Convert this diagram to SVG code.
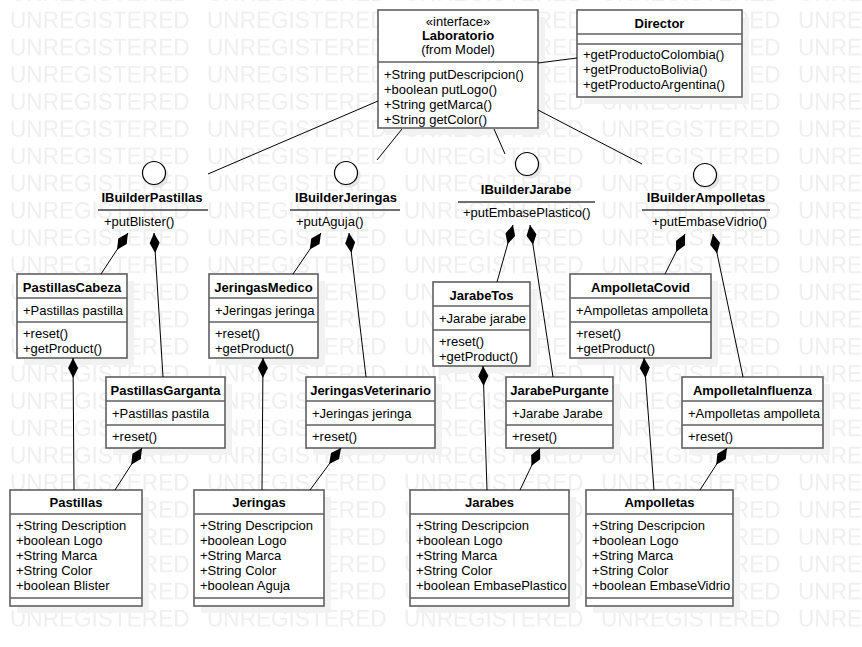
<svg xmlns="http://www.w3.org/2000/svg" width="862" height="647" viewBox="0 0 862 647">
<style>
text{font-family:"Liberation Sans",Arial,sans-serif;font-size:13px;fill:#000}
.b{font-weight:bold}
.c{text-anchor:middle}
.wm{font-size:22.6px;fill:#efefef}
.box{fill:#fff;stroke:#5f5f5f;stroke-width:1.6}
.sh{fill:#f2f2f2}
.div{stroke:#5f5f5f;stroke-width:1.6}
.ul{stroke:#707070;stroke-width:2}
.ic{fill:#fff;stroke:#000;stroke-width:1.2}
.ics{fill:#e6e6e6}
.conn line,.conn path{stroke:#000;stroke-width:1;fill:none}
</style>
<defs>
<pattern id="wm" patternUnits="userSpaceOnUse" x="10" y="1.9" width="197" height="27.2">
<text class="wm" x="0" y="26.6">UNREGISTERED</text>
</pattern>
<marker id="dia" markerUnits="userSpaceOnUse" markerWidth="22" markerHeight="12" refX="0" refY="6" orient="auto" viewBox="0 0 22 12">
<polygon points="0,6 10,1 20,6 10,11" fill="#000"/>
</marker>
</defs>
<rect width="862" height="647" fill="#fff"/>
<rect width="862" height="633" fill="url(#wm)"/>

<g id="Laboratorio">
<rect class="sh" x="385" y="17" width="160" height="118"/>
<rect class="box" x="378" y="10" width="160" height="118"/>
<line class="div" x1="378" y1="62" x2="538" y2="62"/>
<text class="c" x="458" y="26">«interface»</text>
<text class="c b" x="458" y="40">Laboratorio</text>
<text class="c" x="458" y="54">(from Model)</text>
<text x="384" y="79">+String putDescripcion()</text>
<text x="384" y="94">+boolean putLogo()</text>
<text x="384" y="109">+String getMarca()</text>
<text x="384" y="124">+String getColor()</text>
</g>

<g id="Director">
<rect class="sh" x="584" y="17" width="165" height="87"/>
<rect class="box" x="577" y="10" width="165" height="87"/>
<line class="div" x1="577" y1="34" x2="742" y2="34"/>
<line class="div" x1="577" y1="44" x2="742" y2="44"/>
<text class="c b" x="659.5" y="27.5">Director</text>
<text x="583" y="59">+getProductoColombia()</text>
<text x="583" y="74">+getProductoBolivia()</text>
<text x="583" y="89">+getProductoArgentina()</text>
</g>

<g id="IBuilderPastillas">
<circle class="ics" cx="157" cy="176" r="11.5"/>
<circle class="ic" cx="154" cy="173" r="11.5"/>
<text class="c b" x="152" y="202">IBuilderPastillas</text>
<line class="ul" x1="98" y1="210" x2="208" y2="210"/>
<text x="104" y="226">+putBlister()</text>
</g>
<g id="IBuilderJeringas">
<circle class="ics" cx="349" cy="176" r="11.5"/>
<circle class="ic" cx="346" cy="173" r="11.5"/>
<text class="c b" x="346" y="202">IBuilderJeringas</text>
<line class="ul" x1="290" y1="210" x2="400" y2="210"/>
<text x="296" y="226">+putAguja()</text>
</g>
<g id="IBuilderJarabe">
<circle class="ics" cx="530" cy="167" r="11.5"/>
<circle class="ic" cx="527" cy="164" r="11.5"/>
<text class="c b" x="526" y="194">IBuilderJarabe</text>
<line class="ul" x1="458" y1="202" x2="595" y2="202"/>
<text x="463" y="217">+putEmbasePlastico()</text>
</g>
<g id="IBuilderAmpolletas">
<circle class="ics" cx="708" cy="178" r="11.5"/>
<circle class="ic" cx="705" cy="175" r="11.5"/>
<text class="c b" x="706" y="202">IBuilderAmpolletas</text>
<line class="ul" x1="642" y1="210" x2="770" y2="210"/>
<text x="652" y="226">+putEmbaseVidrio()</text>
</g>

<g id="PastillasCabeza">
<rect class="sh" x="24" y="281" width="110" height="84"/>
<rect class="box" x="17" y="274" width="110" height="84"/>
<line class="div" x1="17" y1="298" x2="127" y2="298"/>
<line class="div" x1="17" y1="322" x2="127" y2="322"/>
<text class="c b" x="72" y="291.5">PastillasCabeza</text>
<text x="23" y="314.5">+Pastillas pastilla</text>
<text x="23" y="337.5">+reset()</text>
<text x="23" y="352.5">+getProduct()</text>
</g>
<g id="PastillasGarganta">
<rect class="sh" x="113" y="384" width="119" height="71"/>
<rect class="box" x="106" y="377" width="119" height="71"/>
<line class="div" x1="106" y1="401" x2="225" y2="401"/>
<line class="div" x1="106" y1="425" x2="225" y2="425"/>
<text class="c b" x="165.5" y="394.5">PastillasGarganta</text>
<text x="112" y="417.5">+Pastillas pastila</text>
<text x="112" y="440.5">+reset()</text>
</g>
<g id="JeringasMedico">
<rect class="sh" x="216" y="281" width="109" height="84"/>
<rect class="box" x="209" y="274" width="109" height="84"/>
<line class="div" x1="209" y1="298" x2="318" y2="298"/>
<line class="div" x1="209" y1="322" x2="318" y2="322"/>
<text class="c b" x="263.5" y="291.5">JeringasMedico</text>
<text x="215" y="314.5">+Jeringas jeringa</text>
<text x="215" y="337.5">+reset()</text>
<text x="215" y="352.5">+getProduct()</text>
</g>
<g id="JeringasVeterinario">
<rect class="sh" x="313" y="384" width="129" height="71"/>
<rect class="box" x="306" y="377" width="129" height="71"/>
<line class="div" x1="306" y1="401" x2="435" y2="401"/>
<line class="div" x1="306" y1="425" x2="435" y2="425"/>
<text class="c b" x="370.5" y="394.5">JeringasVeterinario</text>
<text x="312" y="417.5">+Jeringas jeringa</text>
<text x="312" y="440.5">+reset()</text>
</g>
<g id="JarabeTos">
<rect class="sh" x="440" y="289" width="97" height="84"/>
<rect class="box" x="433" y="282" width="97" height="84"/>
<line class="div" x1="433" y1="306" x2="530" y2="306"/>
<line class="div" x1="433" y1="330" x2="530" y2="330"/>
<text class="c b" x="481.5" y="299.5">JarabeTos</text>
<text x="439" y="322.5">+Jarabe jarabe</text>
<text x="439" y="345.5">+reset()</text>
<text x="439" y="360.5">+getProduct()</text>
</g>
<g id="JarabePurgante">
<rect class="sh" x="513" y="384" width="107" height="71"/>
<rect class="box" x="506" y="377" width="107" height="71"/>
<line class="div" x1="506" y1="401" x2="613" y2="401"/>
<line class="div" x1="506" y1="425" x2="613" y2="425"/>
<text class="c b" x="559.5" y="394.5">JarabePurgante</text>
<text x="512" y="417.5">+Jarabe Jarabe</text>
<text x="512" y="440.5">+reset()</text>
</g>
<g id="AmpolletaCovid">
<rect class="sh" x="577" y="281" width="141" height="84"/>
<rect class="box" x="570" y="274" width="141" height="84"/>
<line class="div" x1="570" y1="298" x2="711" y2="298"/>
<line class="div" x1="570" y1="322" x2="711" y2="322"/>
<text class="c b" x="640.5" y="291.5">AmpolletaCovid</text>
<text x="576" y="314.5">+Ampolletas ampolleta</text>
<text x="576" y="337.5">+reset()</text>
<text x="576" y="352.5">+getProduct()</text>
</g>
<g id="AmpolletaInfluenza">
<rect class="sh" x="689" y="384" width="141" height="71"/>
<rect class="box" x="682" y="377" width="141" height="71"/>
<line class="div" x1="682" y1="401" x2="823" y2="401"/>
<line class="div" x1="682" y1="425" x2="823" y2="425"/>
<text class="c b" x="752.5" y="394.5">AmpolletaInfluenza</text>
<text x="688" y="417.5">+Ampolletas ampolleta</text>
<text x="688" y="440.5">+reset()</text>
</g>

<g id="Pastillas">
<rect class="sh" x="17" y="497" width="132" height="116"/>
<rect class="box" x="10" y="490" width="132" height="116"/>
<line class="div" x1="10" y1="514" x2="142" y2="514"/>
<line class="div" x1="10" y1="598" x2="142" y2="598"/>
<text class="c b" x="76" y="507">Pastillas</text>
<text x="16" y="530">+String Description</text>
<text x="16" y="545">+boolean Logo</text>
<text x="16" y="560">+String Marca</text>
<text x="16" y="575">+String Color</text>
<text x="16" y="590">+boolean Blister</text>
</g>
<g id="Jeringas">
<rect class="sh" x="201" y="497" width="130" height="116"/>
<rect class="box" x="194" y="490" width="130" height="116"/>
<line class="div" x1="194" y1="514" x2="324" y2="514"/>
<line class="div" x1="194" y1="598" x2="324" y2="598"/>
<text class="c b" x="259" y="507">Jeringas</text>
<text x="200" y="530">+String Descripcion</text>
<text x="200" y="545">+boolean Logo</text>
<text x="200" y="560">+String Marca</text>
<text x="200" y="575">+String Color</text>
<text x="200" y="590">+boolean Aguja</text>
</g>
<g id="Jarabes">
<rect class="sh" x="417" y="497" width="159" height="116"/>
<rect class="box" x="410" y="490" width="159" height="116"/>
<line class="div" x1="410" y1="514" x2="569" y2="514"/>
<line class="div" x1="410" y1="598" x2="569" y2="598"/>
<text class="c b" x="489.5" y="507">Jarabes</text>
<text x="416" y="530">+String Descripcion</text>
<text x="416" y="545">+boolean Logo</text>
<text x="416" y="560">+String Marca</text>
<text x="416" y="575">+String Color</text>
<text x="416" y="590">+boolean EmbasePlastico</text>
</g>
<g id="Ampolletas">
<rect class="sh" x="593" y="497" width="147" height="116"/>
<rect class="box" x="586" y="490" width="147" height="116"/>
<line class="div" x1="586" y1="514" x2="733" y2="514"/>
<line class="div" x1="586" y1="598" x2="733" y2="598"/>
<text class="c b" x="659.5" y="507">Ampolletas</text>
<text x="592" y="530">+String Descripcion</text>
<text x="592" y="545">+boolean Logo</text>
<text x="592" y="560">+String Marca</text>
<text x="592" y="575">+String Color</text>
<text x="592" y="590">+boolean EmbaseVidrio</text>
</g>

<g class="conn" id="connectors">
<line x1="538" y1="63" x2="577" y2="58"/>
<line x1="378" y1="101" x2="208" y2="174"/>
<line x1="402" y1="129" x2="377" y2="160"/>
<line x1="494" y1="129" x2="505" y2="154"/>
<line x1="538" y1="110" x2="642" y2="164"/>
<path d="M128,233 L101,274" marker-start="url(#dia)"/>
<path d="M154,233 L163,377" marker-start="url(#dia)"/>
<path d="M321,233 L293,274" marker-start="url(#dia)"/>
<path d="M349,233 L366,377" marker-start="url(#dia)"/>
<path d="M513,225 L497,282" marker-start="url(#dia)"/>
<path d="M530,225 L553,377" marker-start="url(#dia)"/>
<path d="M685,234 L665,274" marker-start="url(#dia)"/>
<path d="M713,234 L743,377" marker-start="url(#dia)"/>
<path d="M73,358 L74,490" marker-start="url(#dia)"/>
<path d="M142,448 L115,490" marker-start="url(#dia)"/>
<path d="M263,358 L262,490" marker-start="url(#dia)"/>
<path d="M341,448 L310,490" marker-start="url(#dia)"/>
<path d="M483,366 L487,490" marker-start="url(#dia)"/>
<path d="M540,448 L520,490" marker-start="url(#dia)"/>
<path d="M644,358 L654,490" marker-start="url(#dia)"/>
<path d="M727,448 L700,490" marker-start="url(#dia)"/>
</g>
</svg>
